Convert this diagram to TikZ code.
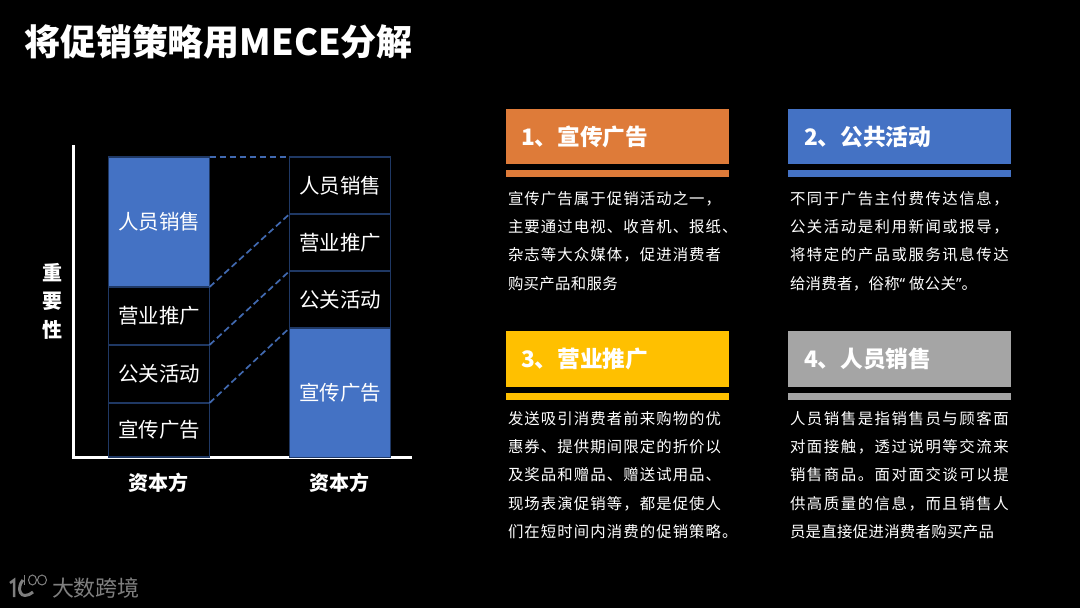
\documentclass[tikz,border=0pt]{standalone}
\usepackage{fontspec}
\setmainfont{Noto Sans CJK SC}
\newfontfamily\bodyfont[LetterSpace=10]{Noto Sans CJK SC}
\newfontfamily\bodyleft[LetterSpace=7]{Noto Sans CJK SC}
\newfontfamily\bodytight[LetterSpace=2]{Noto Sans CJK SC}
\newfontfamily\quotefont{Noto Sans}
\usepackage{tikz}

\definecolor{barblue}{HTML}{4472C4}
\definecolor{edgeblue}{HTML}{1F3864}
\definecolor{dashblue}{HTML}{4169B0}
\definecolor{cardorange}{HTML}{DE7B39}
\definecolor{cardyellow}{HTML}{FFC000}
\definecolor{cardgray}{HTML}{A5A5A5}
\definecolor{logogray}{HTML}{7F7F7F}

\begin{document}
\begin{tikzpicture}[x=1pt, y=-1pt,
    every node/.style={inner sep=0pt, outer sep=0pt, text=white},
    seg/.style={draw=edgeblue, line width=1.5pt, minimum width=101pt, font=\fontsize{20.5}{24}\selectfont},
    axislabel/.style={font=\fontsize{20}{24}\selectfont\bfseries},
    link/.style={draw=dashblue, line width=1.7pt, dash pattern=on 6.5pt off 3.5pt},
    cardhead/.style={minimum width=223pt, minimum height=55pt},
    cardbar/.style={minimum width=223pt, minimum height=7pt},
    headlabel/.style={anchor=west, font=\fontsize{22.7}{26}\selectfont\bfseries},
    bodytext/.style={anchor=north west, align=left, font=#1\fontsize{15.4}{28.4}\selectfont}]
    \fill[black] (0,0) rectangle (1080,608);
    \useasboundingbox (0,0) rectangle (1080,608);

    \node[anchor=west, font=\fontsize{36}{42}\selectfont\bfseries] (title) at (24,42) {将促销策略用MECE分解};

    % axes
    \coordinate (top) at (73.5,145);
    \coordinate (origin) at (73.5,457.5);
    \coordinate (right) at (412,457.5);
    \draw[white, line width=2.5pt] (top) -- (origin) -- (right);

    % left column
    \node[seg, fill=barblue, minimum height=130pt] (l4) at (159,222) {人员销售};
    \node[seg, minimum height=58pt] (l3) at (159,316) {营业推广};
    \node[seg, minimum height=58pt] (l2) at (159,374) {公关活动};
    \node[seg, minimum height=54pt] (l1) at (159,430) {宣传广告};

    % right column
    \node[seg, minimum height=57pt] (r4) at (340,185.5) {人员销售};
    \node[seg, minimum height=57pt] (r3) at (340,242.5) {营业推广};
    \node[seg, minimum height=57pt] (r2) at (340,299.5) {公关活动};
    \node[seg, fill=barblue, minimum height=129.5pt] (r1) at (340,392.75) {宣传广告};

    \draw[link] (l4.north east) -- (r4.north west);
    \draw[link] (l3.north east) -- (r3.north west);
    \draw[link] (l2.north east) -- (r2.north west);
    \draw[link] (l1.north east) -- (r1.north west);

    \node[axislabel, align=center, font=\fontsize{20}{28.5}\selectfont\bfseries] (ylabel) at (52,301) {重\\要\\性};
    \node[axislabel] (xleft) at (158,483) {资本方};
    \node[axislabel] (xright) at (339,483) {资本方};

    % cards
    \node[cardhead, fill=cardorange] (h1) at (617.5,136.5) {};
    \node[cardbar, fill=cardorange] (b1) at (617.5,173.5) {};
    \node[headlabel] (t1) at (521,137) {1、宣传广告};
    \node[bodytext=\bodyleft] (p1) at (508,191) {宣传广告属于促销活动之一，\\主要通过电视、收音机、报纸、\\杂志等大众媒体，促进消费者\\{\bodytight 购买产品和服务}};

    \node[cardhead, fill=barblue] (h2) at (899.5,136.5) {};
    \node[cardbar, fill=barblue] (b2) at (899.5,173.5) {};
    \node[headlabel] (t2) at (804,137) {2、公共活动};
    \node[bodytext=\bodyfont] (p2) at (790,191) {不同于广告主付费传达信息，\\公关活动是利用新闻或报导，\\将特定的产品或服务讯息传达\\{\bodytight 给消费者，俗称{\quotefont “ }做公关{\quotefont ”}。}};

    \node[cardhead, fill=cardyellow, minimum height=56pt] (h3) at (617.5,359) {};
    \node[cardbar, fill=cardyellow] (b3) at (617.5,396.5) {};
    \node[headlabel] (t3) at (521,359) {3、营业推广};
    \node[bodytext=\bodyleft] (p3) at (508,411) {发送吸引消费者前来购物的优\\惠券、提供期间限定的折价以\\及奖品和赠品、赠送试用品、\\现场表演促销等，都是促使人\\们在短时间内消费的促销策略。};

    \node[cardhead, fill=cardgray, minimum height=56pt] (h4) at (899.5,359) {};
    \node[cardbar, fill=cardgray] (b4) at (899.5,396.5) {};
    \node[headlabel] (t4) at (804,359) {4、人员销售};
    \node[bodytext=\bodyfont] (p4) at (790,411) {人员销售是指销售员与顾客面\\对面接触，透过说明等交流来\\销售商品。面对面交谈可以提\\供高质量的信息，而且销售人\\{\bodytight 员是直接促进消费者购买产品}};

    % logo
    \draw[logogray, line width=2.5pt] (10,583) -- (14,580) -- (14,597);
    \draw[logogray, line width=3pt] (23,580) .. controls (16,588) and (20,602) .. (33,592);
    \draw[logogray, line width=1pt] (24.5,575) -- (24.5,585);
    \draw[logogray, line width=1pt] (32.5,580) circle (4 and 5);
    \draw[logogray, line width=1pt] (42,580) circle (4.5 and 5);
    \node[anchor=west, text=logogray, font=\fontsize{22}{26}\selectfont] (brand) at (52,588) {大数跨境};
\end{tikzpicture}
\end{document}
